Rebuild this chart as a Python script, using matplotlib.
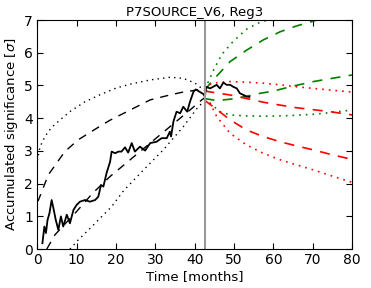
import matplotlib
matplotlib.use("Agg")
import matplotlib.pyplot as plt

# observed accumulated significance
t_obs = [1.3, 1.8, 2.2, 2.6, 3.1, 3.65, 4.1, 4.7, 5.35, 6.0, 6.6, 7.5, 8.3, 9.2,
         10.0, 10.85, 12.1, 13.4, 14.7, 15.5, 16.2, 16.8, 17.6, 18.5, 18.9, 19.8,
         20.6, 21.4, 22.3, 23.1, 24.0, 24.8, 26.1, 27.4, 28.7, 30.3, 31.6, 32.9,
         33.7, 34.0, 34.6, 35.4, 36.3, 37.1, 38.1, 38.8, 39.7, 40.3, 41.2, 42.2,
         42.6, 42.9, 43.9, 44.7, 45.6, 46.4, 47.3, 48.1, 49.0, 49.8, 50.7, 51.5,
         52.4, 53.2, 53.9]
s_obs = [0.18, 0.69, 0.49, 0.89, 1.1, 1.5, 1.25, 0.89, 0.59, 1.0, 0.69, 1.05, 0.79, 1.2,
         1.35, 1.45, 1.5, 1.45, 1.5, 1.6, 1.96, 1.91, 2.32, 2.67, 2.98, 2.93,
         2.98, 2.98, 3.11, 2.95, 3.24, 2.98, 3.13, 3.01, 3.24, 3.28, 3.39, 3.39,
         3.59, 3.44, 3.9, 4.2, 4.15, 4.35, 4.2, 4.5, 4.81, 4.88, 4.81, 4.74,
         4.66, 4.96, 4.91, 4.96, 5.02, 4.91, 5.09, 5.02, 5.02, 4.96, 4.91, 4.76,
         4.71, 4.66, 4.65]

# expected growth up to now (black)
t_hi1 = [0.0, 0.3, 2.8, 7.0, 10.4, 16.4, 18.5, 23.6, 28.7, 33.7, 36.7, 40.4, 42.5]
s_hi1 = [1.45, 1.5, 2.27, 2.98, 3.34, 3.79, 3.94, 4.25, 4.56, 4.71, 4.79, 4.86, 4.88]
t_lo1 = [2.4, 4.5, 10.0, 14.0, 18.5, 23.6, 28.7, 33.7, 38.8, 41.8, 42.5]
s_lo1 = [0.0, 0.44, 1.15, 1.7, 2.22, 2.73, 3.24, 3.74, 4.25, 4.56, 4.62]
t_hi2 = [0.0, 0.7, 2.0, 3.5, 5.8, 8.5, 12.1, 16.0, 20.0, 23.6, 28.7, 33.7, 37.1, 40.1, 41.8, 42.5]
s_hi2 = [2.7, 3.13, 3.45, 3.7, 3.95, 4.22, 4.5, 4.72, 4.92, 5.04, 5.17, 5.25, 5.22, 5.07, 4.91, 4.85]
t_lo2 = [8.3, 10.4, 14.7, 18.9, 21.9, 27.0, 32.0, 37.1, 40.9, 42.5]
s_lo2 = [0.0, 0.28, 0.79, 1.3, 1.78, 2.42, 3.03, 3.74, 4.35, 4.52]

# projections (green / red)
t_gd_hi = [42.5, 44.7, 49.0, 53.2, 57.4, 61.7, 65.9, 69.7, 71.5]
s_gd_hi = [4.85, 5.17, 5.73, 6.08, 6.39, 6.64, 6.82, 6.95, 7.02]
t_gd_lo = [42.5, 45.6, 49.0, 52.8, 56.6, 60.0, 65.0, 70.2, 75.0, 80.0]
s_gd_lo = [4.6, 4.54, 4.58, 4.66, 4.76, 4.83, 4.98, 5.12, 5.22, 5.32]
t_gp_hi = [42.5, 43.5, 44.7, 46.9, 49.8, 53.2, 56.0, 59.0]
s_gp_hi = [4.9, 5.12, 5.45, 5.95, 6.35, 6.72, 6.9, 7.02]
t_gp_lo = [42.5, 43.9, 46.4, 49.0, 53.2, 57.4, 61.7, 66.0, 70.2, 74.4, 80.0]
s_gp_lo = [4.6, 4.46, 4.2, 4.1, 4.07, 4.06, 4.07, 4.09, 4.12, 4.17, 4.25]
t_rd_hi = [42.5, 43.5, 49.0, 53.2, 57.4, 61.7, 65.9, 70.2, 74.4, 80.0]
s_rd_hi = [4.85, 4.81, 4.71, 4.6, 4.49, 4.4, 4.32, 4.26, 4.2, 4.1]
t_rd_lo = [42.5, 44.7, 49.0, 53.2, 57.4, 61.7, 66.0, 70.2, 74.4, 78.6, 80.0]
s_rd_lo = [4.55, 4.35, 3.95, 3.64, 3.44, 3.28, 3.15, 3.03, 2.9, 2.78, 2.76]
t_rp_hi = [42.5, 44.3, 49.0, 53.2, 57.4, 61.7, 65.9, 70.2, 74.4, 80.0]
s_rp_hi = [4.9, 5.07, 5.12, 5.1, 5.07, 5.02, 4.96, 4.91, 4.86, 4.8]
t_rp_lo = [42.5, 43.9, 45.6, 49.0, 53.2, 57.4, 61.7, 66.0, 70.2, 75.0, 80.0]
s_rp_lo = [4.6, 4.46, 4.05, 3.54, 3.18, 2.93, 2.73, 2.57, 2.42, 2.23, 2.04]

t_now = 42.5

fig = plt.figure(figsize=(3.71, 2.88), dpi=100)
ax = fig.add_axes([0.1005, 0.135, 0.8485, 0.7955])

dash = (6, 5)
dot = (1, 3)
ax.plot(t_hi1, s_hi1, color='k', lw=1, dashes=dash)
ax.plot(t_lo1, s_lo1, color='k', lw=1, dashes=dash)
ax.plot(t_hi2, s_hi2, color='k', lw=1, dashes=dot)
ax.plot(t_lo2, s_lo2, color='k', lw=1, dashes=dot)

ax.plot(t_gd_hi, s_gd_hi, color='g', lw=1.2, dashes=dash)
ax.plot(t_gd_lo, s_gd_lo, color='g', lw=1.2, dashes=dash)
ax.plot(t_gp_hi, s_gp_hi, color='g', lw=1.2, dashes=dot)
ax.plot(t_gp_lo, s_gp_lo, color='g', lw=1.2, dashes=dot)
ax.plot(t_rd_hi, s_rd_hi, color='r', lw=1.2, dashes=dash)
ax.plot(t_rd_lo, s_rd_lo, color='r', lw=1.2, dashes=dash)
ax.plot(t_rp_hi, s_rp_hi, color='r', lw=1.2, dashes=dot)
ax.plot(t_rp_lo, s_rp_lo, color='r', lw=1.2, dashes=dot)

ax.plot(t_obs, s_obs, color='k', lw=1.3)
ax.axvline(t_now, color='#999999', lw=1.5)

ax.set_xlim(0, 80)
ax.set_ylim(0, 7)
ax.set_xticks(range(0, 81, 10))
ax.set_yticks(range(0, 8))
ax.tick_params(direction='in', top=True, right=True, length=4, labelsize=10, pad=3)
ax.set_xlabel('Time [months]', fontsize=9.5, labelpad=2)
ax.set_ylabel(r'Accumulated significance [$\sigma$]', fontsize=9.5, labelpad=3)
ax.set_title('P7SOURCE_V6, Reg3', fontsize=9.5, pad=3)

fig.savefig('out.png', dpi=100)
